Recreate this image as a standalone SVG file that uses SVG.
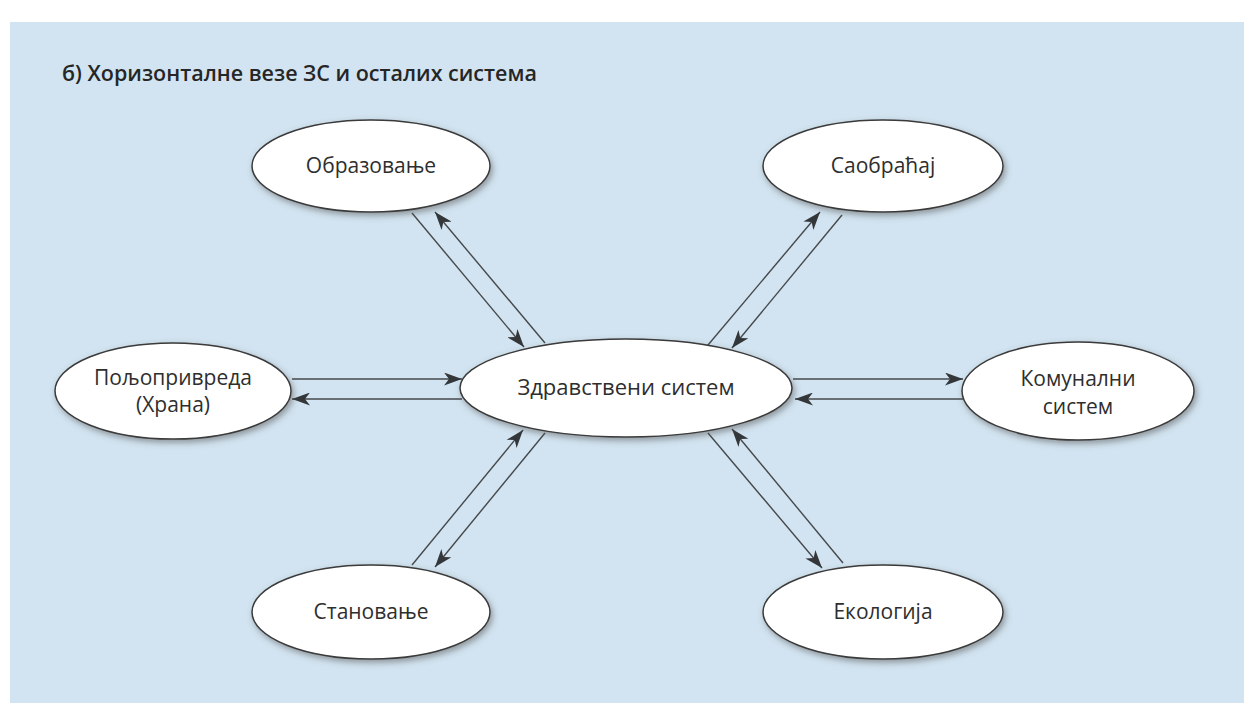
<svg xmlns="http://www.w3.org/2000/svg" width="1244" height="711" viewBox="0 0 1244 711">
  <defs>
    <filter id="sh" x="-20%" y="-30%" width="140%" height="160%">
      <feGaussianBlur in="SourceAlpha" stdDeviation="3"/>
      <feOffset dx="2" dy="3" result="b"/>
      <feFlood flood-color="#555" flood-opacity="0.55"/>
      <feComposite in2="b" operator="in"/>
      <feMerge><feMergeNode/><feMergeNode in="SourceGraphic"/></feMerge>
    </filter>
    <marker id="ah" viewBox="0 0 18 13" refX="18" refY="6.5" markerWidth="18" markerHeight="13" markerUnits="userSpaceOnUse" orient="auto">
      <path d="M0,0 L18,6.5 L0,13 L5,6.5 Z" fill="#34373a"/>
    </marker>
    <style>
      .node ellipse { fill: #ffffff; stroke: #3a3a3a; stroke-width: 1.5; filter: url(#sh); }
      .node text { font-family: "Open Sans", "Liberation Sans", sans-serif; font-size: 21px; fill: #2e2e2e; text-anchor: middle; }
      .conn line { stroke: #45484b; stroke-width: 1.4; marker-end: url(#ah); }
      .title { font-family: "Open Sans", "Liberation Sans", sans-serif; font-size: 21.5px; font-weight: 600; fill: #262626; }
    </style>
  </defs>
  <rect x="0" y="0" width="1244" height="711" fill="#ffffff"/>
  <rect x="10" y="22" width="1234" height="681" fill="#d2e4f1"/>
  <text class="title" x="62" y="81">б) Хоризонталне везе ЗС и осталих система</text>

  <g class="conn">
    <line x1="412" y1="213" x2="524" y2="347"/>
    <line x1="545" y1="343" x2="435" y2="212"/>
    <line x1="708" y1="345" x2="820" y2="212"/>
    <line x1="842" y1="215" x2="732" y2="348"/>
    <line x1="292" y1="379" x2="462" y2="379"/>
    <line x1="462" y1="399" x2="292" y2="399"/>
    <line x1="793" y1="379" x2="963" y2="379"/>
    <line x1="963" y1="399" x2="795" y2="399"/>
    <line x1="412" y1="565" x2="523" y2="430"/>
    <line x1="545" y1="433" x2="435" y2="567"/>
    <line x1="708" y1="433" x2="822" y2="568"/>
    <line x1="843" y1="563" x2="732" y2="429"/>
  </g>

  <g id="obrazovanje" class="node">
    <ellipse cx="371" cy="166" rx="119" ry="46"/>
    <text x="371" y="173">Образовање</text>
  </g>
  <g id="saobracaj" class="node">
    <ellipse cx="883" cy="166" rx="120" ry="46"/>
    <text x="883" y="173">Саобраћај</text>
  </g>
  <g id="poljoprivreda" class="node">
    <ellipse cx="173" cy="391" rx="118" ry="48"/>
    <text x="173" y="385">Пољопривреда</text>
    <text x="173" y="412">(Храна)</text>
  </g>
  <g id="zdravstveni" class="node">
    <ellipse cx="626" cy="388" rx="166" ry="49"/>
    <text x="626" y="395" style="font-size:22px">Здравствени систем</text>
  </g>
  <g id="komunalni" class="node">
    <ellipse cx="1078" cy="391" rx="116" ry="49"/>
    <text x="1078" y="386">Комунални</text>
    <text x="1078" y="414">систем</text>
  </g>
  <g id="stanovanje" class="node">
    <ellipse cx="371" cy="612" rx="119" ry="47"/>
    <text x="371" y="619">Становање</text>
  </g>
  <g id="ekologija" class="node">
    <ellipse cx="883" cy="612" rx="120" ry="47"/>
    <text x="883" y="619">Екологија</text>
  </g>
</svg>
